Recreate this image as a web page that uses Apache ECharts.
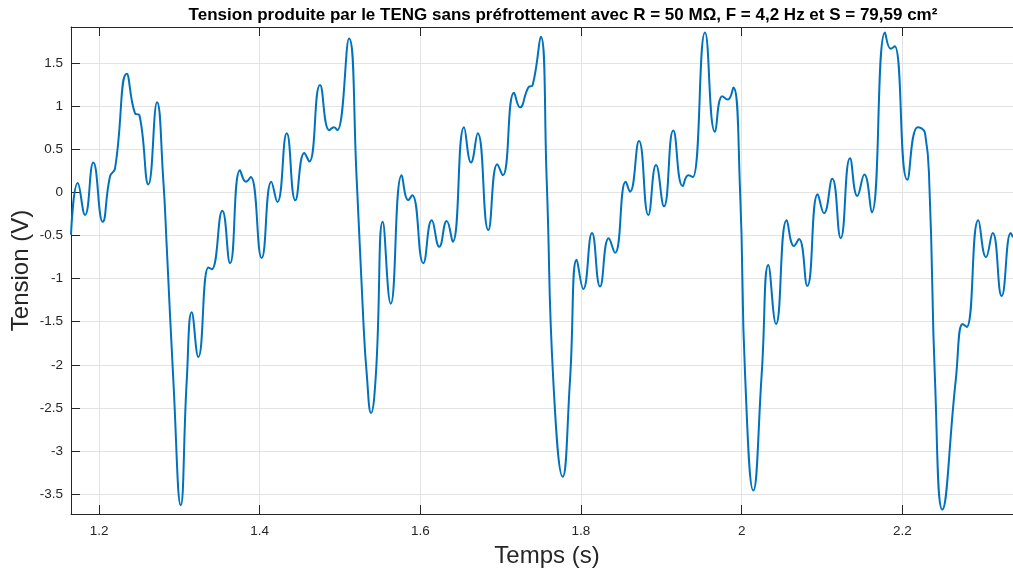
<!DOCTYPE html>
<html>
<head>
<meta charset="utf-8">
<script src="https://cdn.jsdelivr.net/npm/echarts@6/dist/echarts.min.js"></script>
<style>html,body{margin:0;padding:0;background:#fff}#c{width:1013px;height:573px}</style>
</head>
<body>
<div id="c"></div>
<script>
const TITLE = 'Tension produite par le TENG sans préfrottement avec R = 50 MΩ, F = 4,2 Hz et S = 79,59 cm²';
const X_NAME = 'Temps (s)';
const Y_NAME = 'Tension (V)';
const xTicks = [1.2, 1.4, 1.6, 1.8, 2.0, 2.2];
const yTicks = [-3.5, -3, -2.5, -2, -1.5, -1, -0.5, 0, 0.5, 1, 1.5];
const xRange = [1.1651, 2.3378];
const yRange = [-3.733, 1.923];

const time = [
  1.1651, 1.1735, 1.1826, 1.1929, 1.2046, 1.2137, 1.2199, 1.2345, 1.2448, 1.2502,
  1.2614, 1.2722, 1.2800, 1.2843, 1.2925, 1.3017, 1.3092, 1.3154, 1.3236, 1.3361,
  1.3403, 1.3535, 1.3631, 1.3755, 1.3830, 1.3888, 1.4025, 1.4145, 1.4220, 1.4337,
  1.4444, 1.4556, 1.4618, 1.4751, 1.4867, 1.4925, 1.4966, 1.5112, 1.5208, 1.5290,
  1.5332, 1.5386, 1.5448, 1.5532, 1.5631, 1.5768, 1.5850, 1.5900, 1.6037, 1.6142,
  1.6236, 1.6328, 1.6403, 1.6544, 1.6631, 1.6714, 1.6846, 1.6958, 1.7026, 1.7166,
  1.7241, 1.7344, 1.7399, 1.7499, 1.7573, 1.7655, 1.7772, 1.7863, 1.7947, 1.8029,
  1.8137, 1.8237, 1.8345, 1.8423, 1.8557, 1.8610, 1.8722, 1.8838, 1.8934, 1.9033,
  1.9149, 1.9266, 1.9336, 1.9391, 1.9544, 1.9668, 1.9759, 1.9827, 1.9896, 1.9980,
  2.0042, 2.0145, 2.0250, 2.0332, 2.0428, 2.0561, 2.0652, 2.0714, 2.0817, 2.0947,
  2.1025, 2.1128, 2.1233, 2.1349, 2.1440, 2.1527, 2.1619, 2.1785, 2.1856, 2.1905,
  2.2062, 2.2192, 2.2283, 2.2339, 2.2407, 2.2498, 2.2665, 2.2752, 2.2802, 2.2946,
  2.3042, 2.3125, 2.3237, 2.3350, 2.3378
];
const tension = [
  -0.49, 0.11, -0.26, 0.35, -0.34, 0.19, 0.28, 1.38, 0.92, 0.90,
  0.095, 1.05, 0.145, -0.63, -2.18, -3.63, -2.18, -1.39, -1.91, -0.87,
  -0.89, -0.21, -0.82, 0.26, 0.125, 0.18, -0.76, 0.125, -0.11, 0.69,
  -0.09, 0.46, 0.36, 1.25, 0.725, 0.76, 0.725, 1.79, 0.145, -1.48,
  -2.10, -2.56, -2.09, -0.34, -1.29, 0.20, -0.087, -0.03, -0.82, -0.32,
  -0.63, -0.33, -0.57, 0.76, 0.35, 0.69, -0.435, 0.33, 0.20, 1.16,
  0.99, 1.22, 1.25, 1.81, 0.145, -2.18, -3.30, -2.18, -0.78, -1.12,
  -0.47, -1.09, -0.53, -0.70, 0.125, 0.01, 0.60, -0.26, 0.32, -0.16,
  0.72, 0.075, 0.20, 0.18, 1.86, 0.705, 1.12, 1.08, 1.22, 0.03,
  -2.10, -3.46, -2.10, -0.84, -1.525, -0.32, -0.62, -0.54, -1.085, -0.02,
  -0.24, 0.16, -0.53, 0.40, -0.04, 0.21, -0.23, 1.86, 1.67, 1.70,
  0.15, 0.76, 0.69, 0.03, -2.18, -3.68, -2.18, -1.525, -1.56, -0.32,
  -0.75, -0.47, -1.20, -0.47, -0.52
];

const txt = '#262626';
const font = '"Liberation Sans", Arial, Helvetica, sans-serif';
const chart = echarts.init(document.getElementById('c'));
const data = time.map((t, i) => [t, tension[i]]);
const axisCommon = {
  type: 'value',
  axisLine: { show: true, onZero: false, lineStyle: { color: txt, width: 1 } },
  axisTick: { show: true, inside: true, length: 9, lineStyle: { color: txt } },
};
chart.setOption({
  animation: false,
  backgroundColor: '#fff',
  grid: { left: 71, right: 0, top: 27, bottom: 59, containLabel: false, outerBoundsMode: 'none' },
  graphic: [{
    type: 'text', x: 563, y: 15,
    style: { text: TITLE, font: 'bold 17px ' + font, fill: '#000', align: 'center', verticalAlign: 'middle' }
  }],
  xAxis: [{
    ...axisCommon,
    min: xRange[0], max: xRange[1],
    axisTick: { ...axisCommon.axisTick, customValues: xTicks },
    axisLabel: { customValues: xTicks, color: txt, fontSize: 13.5, fontFamily: font, margin: 10 },
    splitLine: { show: true, lineStyle: { color: '#e3e3e3', width: 1 } },
    name: X_NAME, nameLocation: 'middle', nameGap: 30, nameMoveOverlap: false,
    nameTextStyle: { fontSize: 24, color: txt, fontFamily: font, padding: [0, 0, 0, 10] }
  }, {
    ...axisCommon,
    position: 'top',
    min: xRange[0], max: xRange[1],
    axisTick: { ...axisCommon.axisTick, customValues: xTicks },
    axisLabel: { show: false },
    splitLine: { show: false }
  }],
  yAxis: {
    ...axisCommon,
    min: yRange[0], max: yRange[1],
    axisTick: { ...axisCommon.axisTick, customValues: yTicks },
    axisLabel: { customValues: yTicks, color: txt, fontSize: 13.5, fontFamily: font, margin: 8 },
    splitLine: { show: true, lineStyle: { color: '#e3e3e3', width: 1 } },
    name: Y_NAME, nameLocation: 'middle', nameGap: 38, nameMoveOverlap: false,
    nameTextStyle: { fontSize: 24, color: txt, fontFamily: font }
  },
  series: [{
    type: 'line',
    data: data,
    xAxisIndex: 0,
    smooth: 0.5,
    showSymbol: false,
    lineStyle: { color: '#0072BD', width: 2 },
    clip: true
  }]
});
</script>
</body>
</html>
